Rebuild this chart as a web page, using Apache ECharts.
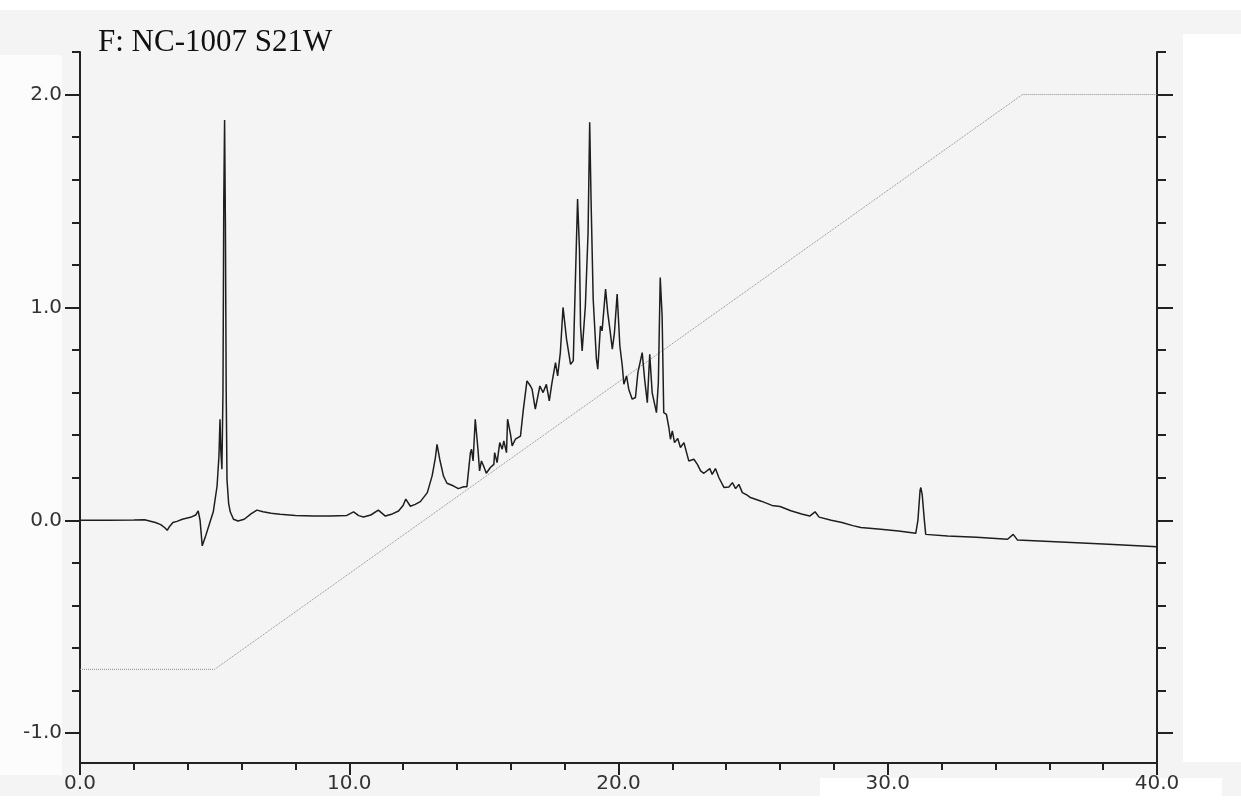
<!DOCTYPE html>
<html>
<head>
<meta charset="utf-8">
<title>F: NC-1007 S21W</title>
<script src="https://cdn.jsdelivr.net/npm/echarts@6/dist/echarts.min.js"></script>
<style>
  html, body { margin: 0; padding: 0; background: #ffffff; }
  #chart { width: 1241px; height: 810px; }
</style>
</head>
<body>
<div id="chart"></div>
<script>
// Chromatogram trace: retention time (min) and detector response
const times = [
  0.0, 1.0, 2.0, 2.4, 2.8, 3.0, 3.15, 3.24, 3.32, 3.45, 3.6, 3.8, 4.1, 4.3, 4.39, 4.46, 4.54, 4.65, 4.8, 4.95,
  5.09, 5.16, 5.2, 5.23, 5.27, 5.31, 5.34, 5.37, 5.40, 5.43, 5.46, 5.52, 5.58, 5.7, 5.87, 6.1, 6.35, 6.57, 6.8, 7.1,
  7.43, 8.0, 8.67, 9.3, 9.91, 10.16, 10.35, 10.53, 10.8, 11.08, 11.34, 11.6, 11.83, 12.0, 12.1, 12.27, 12.45, 12.64, 12.9, 13.08,
  13.2, 13.26, 13.36, 13.5, 13.63, 13.88, 14.05, 14.25, 14.37, 14.5, 14.54, 14.6, 14.68, 14.78, 14.84, 14.91, 14.99, 15.09, 15.24, 15.37,
  15.4, 15.49, 15.59, 15.68, 15.74, 15.84, 15.88, 15.99, 16.05, 16.17, 16.36, 16.46, 16.6, 16.73, 16.79, 16.91, 17.08, 17.2, 17.32, 17.43,
  17.53, 17.66, 17.74, 17.84, 17.94, 18.07, 18.22, 18.32, 18.4, 18.48, 18.55, 18.59, 18.65, 18.77, 18.87, 18.93, 18.98, 19.06, 19.18, 19.23,
  19.33, 19.39, 19.52, 19.6, 19.68, 19.77, 19.85, 19.95, 20.05, 20.14, 20.2, 20.3, 20.38, 20.51, 20.63, 20.72, 20.88, 20.97, 21.07, 21.16,
  21.25, 21.31, 21.41, 21.48, 21.55, 21.62, 21.68, 21.78, 21.87, 21.93, 22.0, 22.08, 22.2, 22.3, 22.43, 22.61, 22.8, 22.93, 23.05, 23.17,
  23.39, 23.48, 23.6, 23.73, 23.92, 24.1, 24.23, 24.35, 24.47, 24.6, 24.78, 24.9, 25.3, 25.7, 26.0, 26.4, 26.8, 27.1, 27.3, 27.45,
  27.9, 28.3, 28.7, 29.0, 29.74, 30.4, 31.04, 31.12, 31.2, 31.23, 31.28, 31.36, 31.41, 32.22, 33.3, 34.45, 34.66, 34.82, 36.43, 38.2,
  40.0
];
const signal = [
  0.0, 0.0, 0.002, 0.003, -0.01, -0.02, -0.035, -0.047, -0.03, -0.01, -0.005, 0.005, 0.014, 0.025, 0.044, 0.0, -0.12, -0.08, -0.02, 0.04,
  0.16, 0.30, 0.475, 0.33, 0.24, 0.6, 1.5, 1.88, 1.4, 0.6, 0.19, 0.08, 0.04, 0.005, -0.003, 0.005, 0.03, 0.048, 0.04, 0.033,
  0.028, 0.023, 0.02, 0.02, 0.023, 0.04, 0.022, 0.016, 0.025, 0.048, 0.02, 0.03, 0.044, 0.07, 0.1, 0.066, 0.075, 0.088, 0.13, 0.21,
  0.295, 0.357, 0.287, 0.208, 0.174, 0.161, 0.149, 0.158, 0.158, 0.318, 0.334, 0.279, 0.475, 0.334, 0.232, 0.279, 0.255, 0.221, 0.248, 0.263,
  0.318, 0.271, 0.365, 0.334, 0.373, 0.318, 0.475, 0.404, 0.35, 0.381, 0.396, 0.514, 0.655, 0.631, 0.616, 0.522, 0.631, 0.6, 0.639, 0.561,
  0.647, 0.741, 0.678, 0.788, 1.0, 0.851, 0.733, 0.749, 1.133, 1.509, 1.274, 0.913, 0.796, 1.008, 1.352, 1.87, 1.509, 1.04, 0.757, 0.71,
  0.913, 0.89, 1.086, 0.976, 0.898, 0.804, 0.882, 1.063, 0.82, 0.726, 0.639, 0.678, 0.616, 0.569, 0.577, 0.694, 0.788, 0.663, 0.553, 0.78,
  0.6, 0.592, 0.506, 0.647, 1.141, 0.96, 0.506, 0.498, 0.436, 0.381, 0.42, 0.365, 0.384, 0.342, 0.365, 0.279, 0.287, 0.263, 0.232, 0.221,
  0.243, 0.216, 0.243, 0.2, 0.154, 0.157, 0.177, 0.149, 0.169, 0.13, 0.118, 0.107, 0.09, 0.07, 0.065, 0.045, 0.03, 0.02, 0.04, 0.015,
  0.0, -0.01, -0.025, -0.034, -0.042, -0.05, -0.061, 0.0, 0.14, 0.154, 0.12, 0.0, -0.066, -0.074, -0.08, -0.089, -0.066, -0.093, -0.102, -0.112,
  -0.124
];

// Solvent gradient program (plotted on the same scale)
const gradientTimes = [0, 5, 35, 40];
const gradientLevels = [-0.7, -0.7, 2.0, 2.0];

// Axis ticks and labels
const xLabels = [0, 10, 20, 30, 40];
const yMajorTicks = [-1, 0, 1, 2];
const yMinorTicks = [-1.0, -0.8, -0.6, -0.4, -0.2, 0.0, 0.2, 0.4, 0.6, 0.8, 1.0, 1.2, 1.4, 1.6, 1.8, 2.0, 2.2];
const yRange = [-1.14, 2.2];

const chart = echarts.init(document.getElementById('chart'), null, { renderer: 'canvas' });

const traceData = times.map((t, i) => [t, signal[i]]);
const gradientData = gradientTimes.map((t, i) => [t, gradientLevels[i]]);

const ink = '#222222';
const labelFont = { fontFamily: 'DejaVu Sans, Verdana, sans-serif', fontSize: 20, color: '#333333' };

function yAxisDef(position, ticks, tickLen, showLine, showLabels) {
  return {
    type: 'value',
    position: position,
    min: yRange[0],
    max: yRange[1],
    axisLine: { show: showLine, onZero: false, lineStyle: { color: ink, width: 2 } },
    axisTick: { show: true, inside: false, length: tickLen, customValues: ticks, lineStyle: { color: ink, width: 2 } },
    axisLabel: showLabels ? Object.assign({
      show: true, customValues: yMajorTicks, margin: 18,
      formatter: v => v.toFixed(1)
    }, labelFont) : { show: false },
    splitLine: { show: false }
  };
}

chart.setOption({
  animation: false,
  backgroundColor: '#ffffff',
  title: {
    text: 'F: NC-1007 S21W',
    left: 93,
    top: 22,
    textStyle: { fontFamily: 'Liberation Serif, Times New Roman, serif', fontSize: 31, fontWeight: 'normal', color: '#111111' }
  },
  graphic: [
    { type: 'rect', z: -100, shape: { x: 0, y: 10, width: 1241, height: 786 }, style: { fill: '#f4f4f4' }, silent: true },
    { type: 'rect', z: -99, shape: { x: 0, y: 55, width: 62, height: 720 }, style: { fill: '#fcfcfc' }, silent: true },
    { type: 'rect', z: -99, shape: { x: 1183, y: 34, width: 58, height: 728 }, style: { fill: '#ffffff' }, silent: true },
    { type: 'rect', z: -99, shape: { x: 820, y: 778, width: 402, height: 22 }, style: { fill: '#ffffff' }, silent: true }
  ],
  grid: { left: 80, right: 84, top: 52, bottom: 47, containLabel: false },
  xAxis: {
    type: 'value',
    min: 0,
    max: 40,
    interval: 10,
    axisLine: { show: true, onZero: false, lineStyle: { color: ink, width: 2 } },
    axisTick: { show: true, inside: false, length: 12, lineStyle: { color: ink, width: 2 } },
    minorTick: { show: true, splitNumber: 5, length: 7, lineStyle: { color: ink, width: 2 } },
    axisLabel: Object.assign({ margin: 11, formatter: v => (xLabels.indexOf(v) >= 0 ? v.toFixed(1) : '') }, labelFont),
    splitLine: { show: false }
  },
  yAxis: [
    yAxisDef('left', yMajorTicks, 15, true, true),
    yAxisDef('left', yMinorTicks, 8, false, false),
    yAxisDef('right', yMajorTicks, 16, true, false),
    yAxisDef('right', yMinorTicks, 9, false, false)
  ],
  series: [
    {
      name: 'gradient',
      type: 'line',
      yAxisIndex: 0,
      data: gradientData,
      showSymbol: false,
      lineStyle: { color: '#8a8a8a', width: 1, type: 'dotted' },
      z: 1
    },
    {
      name: 'signal',
      type: 'line',
      yAxisIndex: 0,
      data: traceData,
      showSymbol: false,
      smooth: false,
      lineStyle: { color: '#1e1e1e', width: 1.5 },
      z: 3
    }
  ]
});
</script>
</body>
</html>
